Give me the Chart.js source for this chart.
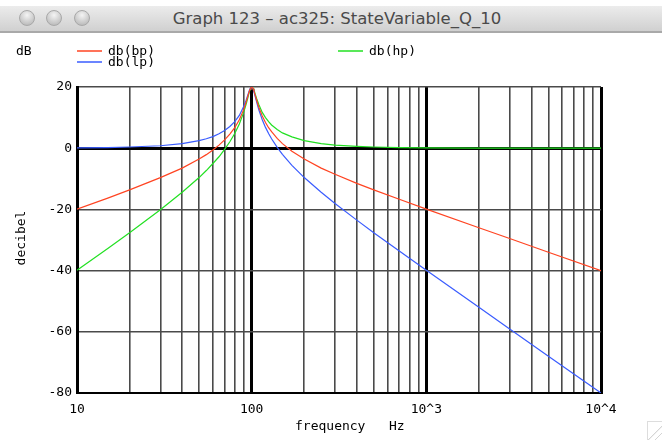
<!DOCTYPE html>
<html>
<head>
<meta charset="utf-8">
<script src="https://cdn.jsdelivr.net/npm/chart.js@4/dist/chart.umd.min.js"></script>
<style>
  body { margin: 0; background: #fff; }
  #wrap { position: relative; width: 662px; height: 440px; overflow: hidden; }
  #titlebar {
    position: absolute; left: 0; top: 6px; width: 662px; height: 25px;
    background: linear-gradient(#ececec, #d0d0d0);
    border-bottom: 2px solid #a9a9a9;
    font-family: "Lucida Grande", "DejaVu Sans", sans-serif;
    font-size: 16.5px; color: #4a4a4a; text-align: center; line-height: 25px;
    z-index: 2;
  }
  .dot {
    position: absolute; top: 4px; width: 16px; height: 16px; border-radius: 50%;
    background: radial-gradient(circle at 50% 30%, #f4f4f4, #c4c4c4 70%, #b0b0b0);
    border: 1px solid #a8a8a8; box-sizing: border-box;
  }
  #title { position: absolute; left: 0; width: 674px; top: 0; }
  #grip {
    position: absolute; right: 0; bottom: 0; width: 14px; height: 18px;
    border-left: 1px solid #ddd; border-top: 1px solid #ddd;
    background: linear-gradient(135deg, #fff 55%, #bbb 57%, #fff 60%, #fff 75%, #bbb 77%, #fff 80%);
  }
  canvas { position: absolute; left: 0; top: 0; }
</style>
</head>
<body>
<div id="wrap">
  <div id="titlebar">
    <div class="dot" style="left:19px"></div>
    <div class="dot" style="left:46px"></div>
    <div class="dot" style="left:74px"></div>
    <div id="title">Graph 123 – ac325: StateVariable_Q_10</div>
  </div>
  <canvas id="chart" width="662" height="440"></canvas>
  <div id="grip"></div>
</div>
<script>
// frequency points (Hz) and levels (dB)
const freqs = [10, 15, 20, 30, 40, 50, 55, 60, 65, 70, 75, 80, 85, 90, 93, 95, 96, 97, 98, 99,
    100, 101, 102, 103, 104, 105, 107, 110, 115, 120, 125, 130, 140, 150, 170, 200, 250, 300,
    400, 500, 700, 1000, 2000, 3000, 5000, 10000];
const bpDb = [-19.9, -16.3, -13.6, -9.6, -6.5, -3.5, -2.1, -0.6, 1.0, 2.7, 4.6, 6.7, 9.3, 12.6, 15.1, 16.9, 17.8, 18.6, 19.3, 19.8,
    20.0, 19.8, 19.4, 18.7, 17.9, 17.1, 15.5, 13.3, 10.5, 8.4, 6.7, 5.4, 3.2, 1.5, -1.0, -3.5, -6.5, -8.5,
    -11.5, -13.6, -16.7, -19.9, -26.0, -29.5, -34.0, -40.0];
const lpDb = [0.1, 0.2, 0.4, 0.8, 1.5, 2.5, 3.1, 3.8, 4.7, 5.8, 7.1, 8.7, 10.7, 13.6, 15.7, 17.3, 18.1, 18.9, 19.5, 19.9,
    20.0, 19.7, 19.2, 18.4, 17.6, 16.7, 14.9, 12.5, 9.3, 6.8, 4.8, 3.1, 0.3, -2.0, -5.6, -9.6, -14.4, -18.1,
    -23.5, -27.6, -33.6, -39.9, -52.0, -59.1, -68.0, -80.0];
const hpDb = [-39.9, -32.8, -27.6, -20.1, -14.4, -9.6, -7.3, -5.0, -2.8, -0.4, 2.1, 4.8, 7.9, 11.7, 14.4, 16.4, 17.4, 18.4, 19.2, 19.7,
    20.0, 19.9, 19.5, 19.0, 18.3, 17.5, 16.1, 14.2, 11.7, 10.0, 8.7, 7.6, 6.1, 5.0, 3.7, 2.5, 1.5, 1.0,
    0.6, 0.4, 0.2, 0.1, 0.0, 0.0, 0.0, 0.0];

const xGrid = [10, 20, 30, 40, 50, 60, 70, 80, 90, 100, 200, 300, 400, 500, 600, 700, 800, 900,
    1000, 2000, 3000, 4000, 5000, 6000, 7000, 8000, 9000, 10000];
const decades = [10, 100, 1000, 10000];
const decadeLabels = ['10', '100', '10^3', '10^4'];

const mono = '"DejaVu Sans Mono", monospace';

function pts(ys) {
    return freqs.map((f, i) => ({ x: f, y: ys[i] }));
}

// legend, axis titles and the "dB" tag, drawn like the original plot window
const extras = {
    id: 'extras',
    afterDraw(chart) {
        const ctx = chart.ctx;
        const ds = chart.data.datasets;
        ctx.save();
        ctx.font = '13px ' + mono;
        ctx.fillStyle = '#000';
        ctx.textBaseline = 'middle';
        ctx.textAlign = 'left';
        ctx.fillText('dB', 16, 52);

        const items = [
            { ds: ds[0], x: 77, y: 51 },
            { ds: ds[1], x: 77, y: 62 },
            { ds: ds[2], x: 338, y: 51 }
        ];
        items.forEach((it) => {
            ctx.strokeStyle = it.ds.borderColor;
            ctx.lineWidth = 1.5;
            ctx.beginPath();
            ctx.moveTo(it.x, it.y);
            ctx.lineTo(it.x + 25, it.y);
            ctx.stroke();
            ctx.fillStyle = '#000';
            ctx.fillText(it.ds.label, it.x + 31, it.y + 1);
        });

        ctx.fillText('frequency   Hz', 295, 427);

        ctx.translate(22, 238);
        ctx.rotate(-Math.PI / 2);
        ctx.textAlign = 'center';
        ctx.fillText('decibel', 0, 0);
        ctx.restore();
    }
};

const ctx = document.getElementById('chart').getContext('2d');
new Chart(ctx, {
    type: 'line',
    data: {
        datasets: [
            { label: 'db(bp)', data: pts(bpDb), borderColor: '#ff4422', borderWidth: 1.2 },
            { label: 'db(lp)', data: pts(lpDb), borderColor: '#3a5cff', borderWidth: 1.2 },
            { label: 'db(hp)', data: pts(hpDb), borderColor: '#22e022', borderWidth: 1.2 }
        ]
    },
    options: {
        responsive: false,
        animation: false,
        layout: { padding: { top: 87, right: 61, left: 0, bottom: 0 } },
        elements: { point: { radius: 0 }, line: { tension: 0 } },
        plugins: { legend: { display: false }, tooltip: { enabled: false } },
        scales: {
            x: {
                type: 'logarithmic',
                min: 10,
                max: 10000,
                afterBuildTicks: (s) => { s.ticks = xGrid.map((v) => ({ value: v })); },
                afterFit: (s) => { s.height = 47; },
                ticks: {
                    autoSkip: false,
                    maxRotation: 0,
                    padding: 9,
                    color: '#000',
                    font: { family: mono, size: 13 },
                    callback: (v) => {
                        const i = decades.indexOf(v);
                        return i >= 0 ? decadeLabels[i] : '';
                    }
                },
                grid: {
                    drawTicks: false,
                    color: (c) => decades.includes(c.tick && c.tick.value) ? '#000' : '#4a4a4a',
                    lineWidth: (c) => decades.includes(c.tick && c.tick.value) ? 3 : 1.6
                },
                border: { color: '#000', width: 2 }
            },
            y: {
                min: -80,
                max: 20,
                afterFit: (s) => { s.width = 77; },
                ticks: {
                    stepSize: 20,
                    padding: 5,
                    color: '#000',
                    font: { family: mono, size: 13 }
                },
                grid: {
                    drawTicks: false,
                    color: (c) => c.tick && c.tick.value === 0 ? '#000' : '#4a4a4a',
                    lineWidth: (c) => c.tick && c.tick.value === 0 ? 3 : 1.6
                },
                border: { color: '#000', width: 3 }
            }
        }
    },
    plugins: [extras]
});
</script>
</body>
</html>
